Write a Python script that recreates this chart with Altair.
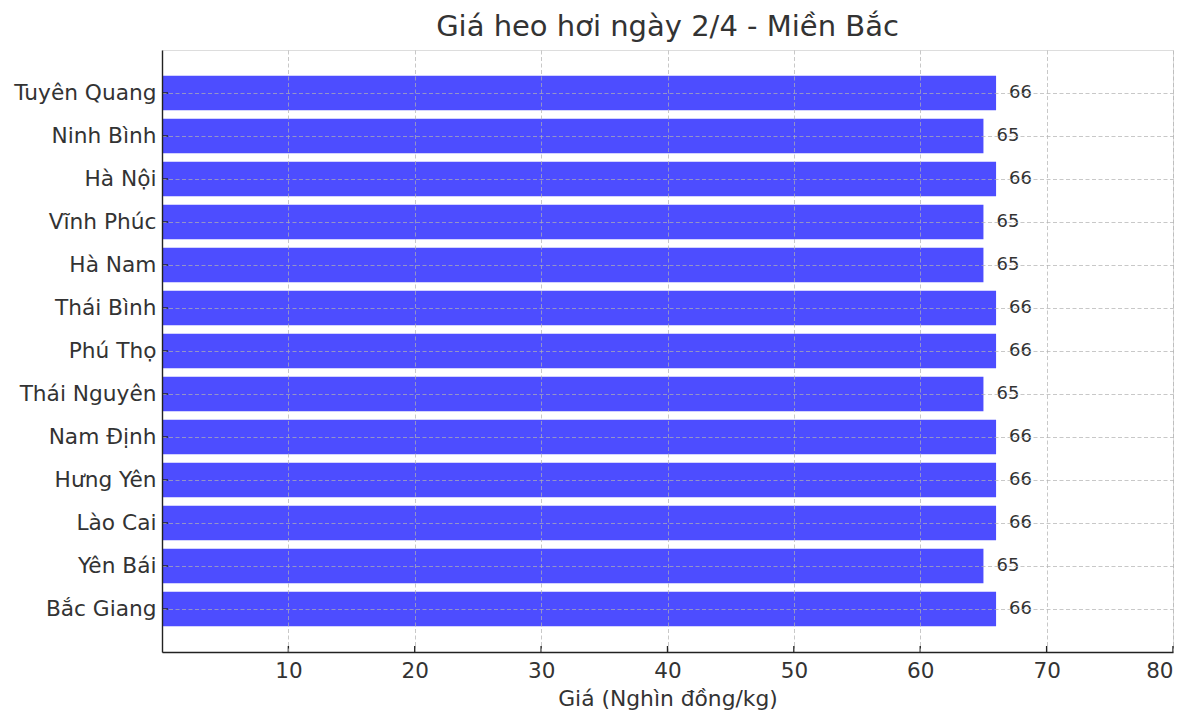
import altair as alt
import pandas as pd

provinces = ["Tuyên Quang", "Ninh Bình", "Hà Nội", "Vĩnh Phúc", "Hà Nam", "Thái Bình",
             "Phú Thọ", "Thái Nguyên", "Nam Định", "Hưng Yên", "Lào Cai", "Yên Bái", "Bắc Giang"]
prices = [66, 65, 66, 65, 65, 66, 66, 65, 66, 66, 66, 65, 66]
x_ticks = [10, 20, 30, 40, 50, 60, 70, 80]

FONT = "DejaVu Sans"
TXT = "#333333"
W, H = 1011, 602

df = pd.DataFrame({"province": provinces, "price": prices})
ticks_df = pd.DataFrame({"v": x_ticks})

yenc = alt.Y("province:N", sort=provinces,
             scale=alt.Scale(paddingInner=0.2, paddingOuter=0.6),
             axis=alt.Axis(title=None, labelFont=FONT, labelFontSize=21.7, labelColor=TXT,
                           labelPadding=6, ticks=False, domainColor="#222222", domainWidth=1.4,
                           grid=True, gridDash=[4, 2.5], gridColor="#b0b0b0", gridOpacity=0.7,
                           gridWidth=1, bandPosition=0.5, zindex=1))
xscale = alt.Scale(domain=[0, 80], nice=False, zero=True)

bars = alt.Chart(df).mark_bar(color="#4d4dff").encode(
    x=alt.X("price:Q", scale=xscale,
            axis=alt.Axis(values=x_ticks, title="Giá (Nghìn đồng/kg)", titleFont=FONT,
                          titleFontSize=21.8, titleFontWeight="normal", titleColor=TXT,
                          titlePadding=7, labelFont=FONT, labelFontSize=21.5, labelColor=TXT,
                          labelPadding=8, ticks=False, domainColor="#222222", domainWidth=1.4,
                          grid=True, gridDash=[4, 2.5], gridColor="#b0b0b0", gridOpacity=0.7,
                          gridWidth=1, zindex=1)),
    y=yenc,
)

labels = alt.Chart(df).mark_text(align="left", baseline="middle", dx=13, font=FONT,
                                 fontSize=18, color=TXT).encode(
    x=alt.X("price:Q", scale=xscale),
    y=alt.Y("province:N", sort=provinces),
    text=alt.Text("price:Q"),
)

yticks = alt.Chart(df).mark_rule(color="#222222", strokeWidth=1.4).encode(
    y=alt.Y("province:N", sort=provinces),
    x=alt.value(0), x2=alt.value(6),
)

xticks = alt.Chart(ticks_df).mark_rule(color="#222222", strokeWidth=1.4).encode(
    x=alt.X("v:Q", scale=xscale),
    y=alt.value(H), y2=alt.value(H - 6),
)

chart = alt.layer(bars, labels, yticks, xticks).properties(
    width=W, height=H,
    title=alt.TitleParams("Giá heo hơi ngày 2/4 - Miền Bắc", font=FONT, fontSize=29,
                          fontWeight="normal", color=TXT, anchor="middle", offset=8),
    autosize=alt.AutoSizeParams(type="none"),
    padding={"left": 154, "top": 42, "right": 19, "bottom": 70},
).configure_view(stroke=None).configure(background="white")

chart.save("out.html", embed_options={"renderer": "svg", "actions": False})
